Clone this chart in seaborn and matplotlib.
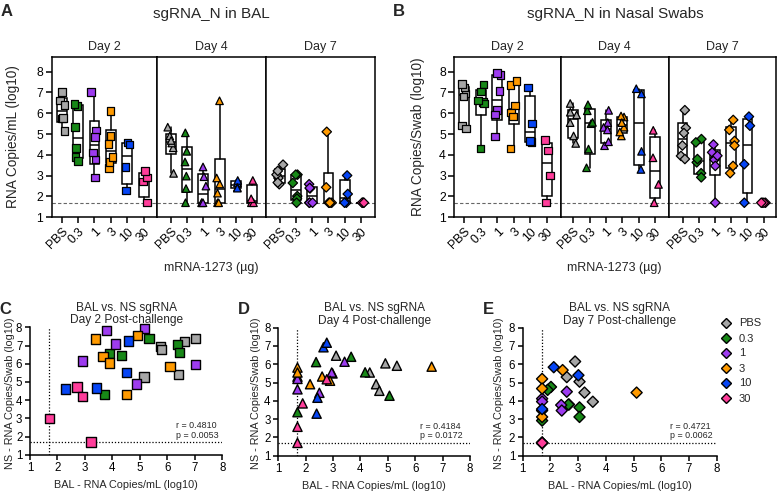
import numpy as np
import pandas as pd
import matplotlib
matplotlib.use("Agg")
import matplotlib.pyplot as plt
import seaborn as sns
from matplotlib.lines import Line2D

# ---------------- data ----------------
groups = ["PBS", "0.3", "1", "3", "10", "30"]
group_sizes = [6, 6, 6, 6, 4, 4]
colors = ["#A6A6A6", "#178817", "#9D3BEF", "#FF9A00", "#0645F5", "#FF3D9A"]
days = ["Day 2", "Day 4", "Day 7"]
day_markers = ["s", "^", "D"]
lod = 1.7

# log10 sgRNA per animal (order: PBS x6, 0.3 x6, 1 x6, 3 x6, 10 x4, 30 x4)
day2_bal = [5.75, 5.78, 6.62, 7.03, 6.40, 5.15,
            3.89, 4.33, 5.33, 6.36, 6.44, 3.71,
            3.79, 4.12, 5.17, 2.92, 7.03, 4.87,
            3.38, 4.91, 3.66, 3.89, 6.10, 4.52,
            4.59, 4.50, 2.30, 3.42,
            2.71, 2.91, 1.70, 3.22]
day2_ns = [6.95, 6.80, 7.23, 7.40, 5.42, 5.27,
           6.55, 6.46, 7.39, 7.04, 6.62, 4.30,
           7.83, 7.08, 7.94, 6.15, 5.95, 4.88,
           7.36, 7.56, 6.38, 6.04, 5.85, 4.31,
           7.25, 5.52, 4.61, 4.66,
           4.72, 4.21, 3.01, 1.70]
day4_bal = [3.11, 4.34, 4.91, 5.33, 4.57, 4.69,
            2.38, 3.66, 2.98, 4.17, 5.06, 1.70,
            3.42, 2.50, 2.95, 1.70, 1.70, 1.70,
            1.70, 2.16, 2.60, 2.89, 6.60, 1.70,
            2.65, 2.77, 2.43, 2.40,
            1.70, 1.70, 1.89, 2.77]
day4_ns = [6.47, 5.55, 6.05, 5.92, 4.91, 4.55,
           6.12, 6.41, 5.50, 5.56, 4.28, 3.38,
           6.14, 4.44, 5.55, 5.32, 5.20, 4.63,
           5.82, 4.91, 5.33, 5.10, 5.87, 5.55,
           6.93, 7.18, 4.17, 3.30,
           2.58, 1.70, 3.86, 5.18]
day7_bal = [2.89, 2.59, 3.05, 3.23, 3.53, 2.67,
            2.02, 1.90, 3.05, 3.05, 1.70, 2.65,
            2.59, 2.39, 2.41, 1.70, 1.70, 1.70,
            2.44, 1.70, 1.70, 1.70, 1.70, 5.11,
            2.12, 3.01, 1.70, 1.70,
            1.70, 1.70, 1.70, 1.70]
day7_ns = [6.15, 5.30, 5.05, 4.45, 3.95, 3.80,
           4.76, 4.60, 3.64, 3.12, 2.92, 3.80,
           4.50, 3.77, 3.47, 4.12, 3.96, 1.70,
           5.68, 5.20, 4.67, 3.47, 3.12, 4.45,
           5.84, 5.40, 3.55, 1.70,
           1.70, 1.70, 1.70, 1.70]
corr_r = ["0.4810", "0.4184", "0.4721"]
corr_p = ["0.0053", "0.0172", "0.0062"]

bal_by_day = [day2_bal, day4_bal, day7_bal]
ns_by_day = [day2_ns, day4_ns, day7_ns]

# ---------------- style ----------------
sns.set_style("ticks")
plt.rcParams["font.family"] = ["Liberation Sans", "DejaVu Sans"]
plt.rcParams["axes.linewidth"] = 1.1
plt.rcParams["xtick.major.width"] = 1.1
plt.rcParams["ytick.major.width"] = 1.1
plt.rcParams["xtick.major.size"] = 4
plt.rcParams["ytick.major.size"] = 4
plt.rcParams["xtick.color"] = "black"
plt.rcParams["ytick.color"] = "black"
plt.rcParams["axes.edgecolor"] = "black"
np.random.seed(3)

W, H = 777, 493
fig = plt.figure(figsize=(W / 100, H / 100), dpi=100)


def fx(x):
    return x / W


def fy(y):
    return 1 - y / H


def frame(left, right, top, bottom):
    return [fx(left), fy(bottom), fx(right) - fx(left), fy(top) - fy(bottom)]


def prism_stats(vals):
    v = np.asarray(vals, float)
    q1, med, q3 = np.percentile(v, [25, 50, 75], method="weibull")
    return dict(med=med, q1=q1, q3=q3, whislo=v.min(), whishi=v.max(), fliers=[])


def make_df(vals):
    return pd.DataFrame({"group": np.repeat(groups, group_sizes), "value": vals})


# ---------------- panels A and B ----------------
top_panel_specs = [
    (bal_by_day,
     [(51.7, 157.3), (157.3, 266.0), (266.0, 374.6)],
     [(-0.61, 5.83), (-0.82, 5.84), (-0.84, 5.84)]),
    (ns_by_day,
     [(454.3, 560.7), (560.7, 668.7), (668.7, 775.6)],
     [(-0.61, 5.85), (-0.77, 5.83), (-0.85, 5.73)]),
]

for vals_by_day, edges, xlims in top_panel_specs:
    for d in range(3):
        ax = fig.add_axes(frame(edges[d][0], edges[d][1], 57.3, 217.3))
        df = make_df(vals_by_day[d])
        stats = [prism_stats(df.loc[df.group == g, "value"]) for g in groups]
        ax.bxp(stats, positions=range(len(groups)), widths=0.6, patch_artist=True,
               showcaps=False, showfliers=False, manage_ticks=False,
               boxprops=dict(facecolor="white", edgecolor="black", linewidth=1.1),
               medianprops=dict(color="black", linewidth=1.1),
               whiskerprops=dict(color="black", linewidth=1.1), zorder=2)
        ax.axhline(lod, color="#666666", lw=0.8, ls=(0, (3, 2)), zorder=1)
        sns.stripplot(data=df, x="group", y="value", hue="group", order=groups,
                      hue_order=groups, palette=colors, marker=day_markers[d],
                      size=5.4 if d != 2 else 4.8, edgecolor="black", linewidth=0.9,
                      jitter=0.22, legend=False, ax=ax, zorder=3, clip_on=False)
        ax.set_xlim(*xlims[d])
        ax.set_ylim(1, 8.69)
        ax.set_yticks(range(1, 9))
        ax.set_xticks(range(len(groups)))
        ax.set_xticklabels(groups, rotation=45, ha="right", rotation_mode="anchor",
                           fontsize=8.8)
        ax.tick_params(axis="x", pad=2)
        ax.set_xlabel("")
        ax.set_ylabel("")
        for s in ax.spines.values():
            s.set_visible(True)
            s.set_linewidth(1.1)
        if d == 0:
            ax.tick_params(axis="y", labelsize=8.8, pad=2)
        else:
            ax.tick_params(axis="y", left=False, labelleft=False)
        ax.set_title(days[d], fontsize=9, pad=5)

# ---------------- panels C, D, E ----------------
scatter_frames = [
    (30.0, 222.3, 327.3, 454.7),
    (278.3, 470.0, 327.7, 455.7),
    (522.7, 716.7, 327.7, 455.7),
]
corr_pos = [6.33, 6.17, 6.32]
for d in range(3):
    l, r, t, b = scatter_frames[d]
    ax = fig.add_axes(frame(l, r, t, b))
    df = pd.DataFrame({"group": np.repeat(groups, group_sizes),
                       "bal": bal_by_day[d], "ns": ns_by_day[d]})
    ax.axvline(lod, color="black", lw=0.9, ls=(0, (1, 1.5)), zorder=1)
    ax.axhline(lod, color="black", lw=0.9, ls=(0, (1, 1.5)), zorder=1)
    sns.scatterplot(data=df, x="bal", y="ns", hue="group", hue_order=groups,
                    palette=colors, marker=day_markers[d],
                    s=44 if d != 2 else 32, edgecolor="black", linewidth=1.0,
                    legend=False, ax=ax, zorder=3, clip_on=False)
    ax.set_xlim(1, 8)
    ax.set_ylim(1, 8)
    ax.set_xticks(range(1, 9))
    ax.set_yticks(range(1, 9))
    ax.tick_params(labelsize=8.3, pad=2, length=3.5)
    sns.despine(ax=ax)
    ax.set_xlabel("BAL - RNA Copies/mL (log10)", fontsize=7.8, labelpad=4)
    ax.set_ylabel("")
    ax.set_title("BAL vs. NS sgRNA\n" + days[d] + " Post-challenge",
                 fontsize=8.6, pad=3, linespacing=1.05)
    ax.text(corr_pos[d], 2.62, "r = " + corr_r[d], fontsize=6.4, va="center")
    ax.text(corr_pos[d], 2.08, "p = " + corr_p[d], fontsize=6.4, va="center")

# legend next to panel E
handles = [Line2D([], [], ls="", marker="D", markersize=5.5, markerfacecolor=c,
                  markeredgecolor="black", markeredgewidth=1.0) for c in colors]
fig.legend(handles, groups, loc="upper left", bbox_to_anchor=(fx(720.0), fy(318.5)),
           frameon=False, fontsize=8, handlelength=1.0, handletextpad=0.7,
           labelspacing=0.45, borderpad=0, borderaxespad=0)

# ---------------- figure texts ----------------
fig.text(fx(7), fy(11), "A", fontsize=12, fontweight="bold", ha="center", va="center")
fig.text(fx(399), fy(11), "B", fontsize=12, fontweight="bold", ha="center", va="center")
fig.text(fx(5), fy(309), "C", fontsize=12, fontweight="bold", ha="center", va="center")
fig.text(fx(244), fy(309), "D", fontsize=12, fontweight="bold", ha="center", va="center")
fig.text(fx(488), fy(309), "E", fontsize=12, fontweight="bold", ha="center", va="center")

fig.text(fx(211.7), fy(14), "sgRNA_N in BAL", fontsize=11, ha="center", va="center")
fig.text(fx(615.3), fy(14), "sgRNA_N in Nasal Swabs", fontsize=11, ha="center", va="center")
fig.text(fx(210.8), fy(268), "mRNA-1273 (µg)", fontsize=9, ha="center", va="center")
fig.text(fx(614), fy(268), "mRNA-1273 (µg)", fontsize=9, ha="center", va="center")
fig.text(fx(13), fy(137), "RNA Copies/mL (log10)", fontsize=9.8, rotation=90,
         ha="center", va="center")
fig.text(fx(418), fy(137), "RNA Copies/Swab (log10)", fontsize=9.8, rotation=90,
         ha="center", va="center")
for xpos in (10, 256, 499):
    fig.text(fx(xpos), fy(393), "NS - RNA Copies/Swab (log10)", fontsize=7.8,
             rotation=90, ha="center", va="center")

fig.savefig("out.png", dpi=100)
